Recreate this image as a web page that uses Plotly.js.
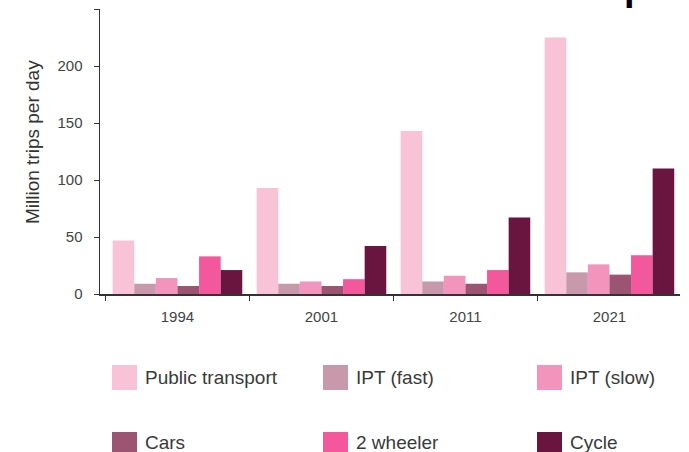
<!DOCTYPE html>
<html>
<head>
<meta charset="utf-8">
<script src="https://cdn.plot.ly/plotly-3.0.1.min.js"></script>
<style>
html, body { margin: 0; padding: 0; background: #fff; }
#chart { width: 689px; height: 452px; }
</style>
</head>
<body>
<div id="chart"></div>
<script>
const years = ['1994', '2001', '2011', '2021'];
const seriesNames = ['Public transport', 'IPT (fast)', 'IPT (slow)', 'Cars', '2 wheeler', 'Cycle'];
const publicTransport = [47, 93, 143, 225];
const iptFast = [9, 9, 11, 19];
const iptSlow = [14, 11, 16, 26];
const cars = [7, 7, 9, 17];
const twoWheeler = [33, 13, 21, 34];
const cycle = [21, 42, 67, 110];
const yTickVals = [0, 50, 100, 150, 200, 250];
const yTickText = ['0', '50', '100', '150', '200', ''];
const titleText = 'Modal Share of Road Trips';
const yTitle = 'Million trips per day';

const seriesValues = [publicTransport, iptFast, iptSlow, cars, twoWheeler, cycle];
const colors = ['#F8C3D7', '#C899AB', '#F394BD', '#9B5572', '#F2589B', '#6A1440'];

const W = 689, H = 452;
const M = { l: 100, r: 9, t: 9, b: 158 };
const PW = W - M.l - M.r, PH = H - M.t - M.b;
const px2x = p => (p - M.l) / PW;
const py2y = p => (H - M.b - p) / PH;

const FONT = 'Liberation Sans, Arial, sans-serif';

const traces = seriesNames.map((name, i) => ({
  type: 'bar',
  name: name,
  x: years,
  y: seriesValues[i],
  marker: { color: colors[i], line: { width: 0 } },
  showlegend: false,
  hoverinfo: 'x+y+name'
}));

// custom legend: 3 columns x 2 rows (pixel layout)
const swatchX = [112, 323, 537];
const swatchTop = [365, 432];
const SW = 25;
const shapes = [];
const annotations = [];
seriesNames.forEach((name, i) => {
  const col = i % 3, row = Math.floor(i / 3);
  const x0 = swatchX[col], y0 = swatchTop[row];
  shapes.push({
    type: 'rect', xref: 'paper', yref: 'paper',
    x0: px2x(x0), x1: px2x(x0 + SW), y0: py2y(y0 + SW), y1: py2y(y0),
    fillcolor: colors[i], line: { width: 0 }
  });
  annotations.push({
    xref: 'paper', yref: 'paper', x: px2x(x0 + SW + 6), y: py2y(y0 + (row === 0 ? 12 : 11)),
    xanchor: 'left', yanchor: 'middle', showarrow: false,
    text: name, font: { family: FONT, size: 19, color: '#3a3a3a' }
  });
});
// title (clipped at top edge, as in reference)
annotations.push({
  xref: 'paper', yref: 'paper', x: px2x(428), y: py2y(10.1),
  xanchor: 'center', yanchor: 'bottom', showarrow: false,
  text: '<b>' + titleText + '</b>',
  font: { family: FONT, size: 38, color: '#000' }
});
// y-axis title
annotations.push({
  xref: 'paper', yref: 'paper', x: px2x(32), y: py2y(142),
  xanchor: 'center', yanchor: 'middle', showarrow: false, textangle: -90,
  text: yTitle, font: { family: FONT, size: 19, color: '#333' }
});

const layout = {
  width: W, height: H,
  margin: M,
  paper_bgcolor: '#fff', plot_bgcolor: '#fff',
  barmode: 'group', bargap: 0.1, bargroupgap: 0,
  font: { family: FONT, color: '#444' },
  xaxis: {
    type: 'category',
    range: [-0.538, 3.49],
    showline: true, linecolor: '#333', linewidth: 1.5,
    ticks: 'outside', tickson: 'boundaries', ticklen: 5, tickcolor: '#333', tickwidth: 1,
    showgrid: false, zeroline: false,
    tickfont: { size: 15, color: '#444' }, ticklabelstandoff: 8
  },
  yaxis: {
    range: [0, 250],
    showline: true, linecolor: '#333', linewidth: 1.5,
    ticks: 'outside', ticklen: 5, tickcolor: '#333', tickwidth: 1,
    tickvals: yTickVals, ticktext: yTickText,
    showgrid: false, zeroline: false,
    tickfont: { size: 15, color: '#444' }, ticklabelstandoff: 8
  },
  shapes: shapes,
  annotations: annotations
};

Plotly.newPlot('chart', traces, layout, { displayModeBar: false, staticPlot: true });
</script>
</body>
</html>
